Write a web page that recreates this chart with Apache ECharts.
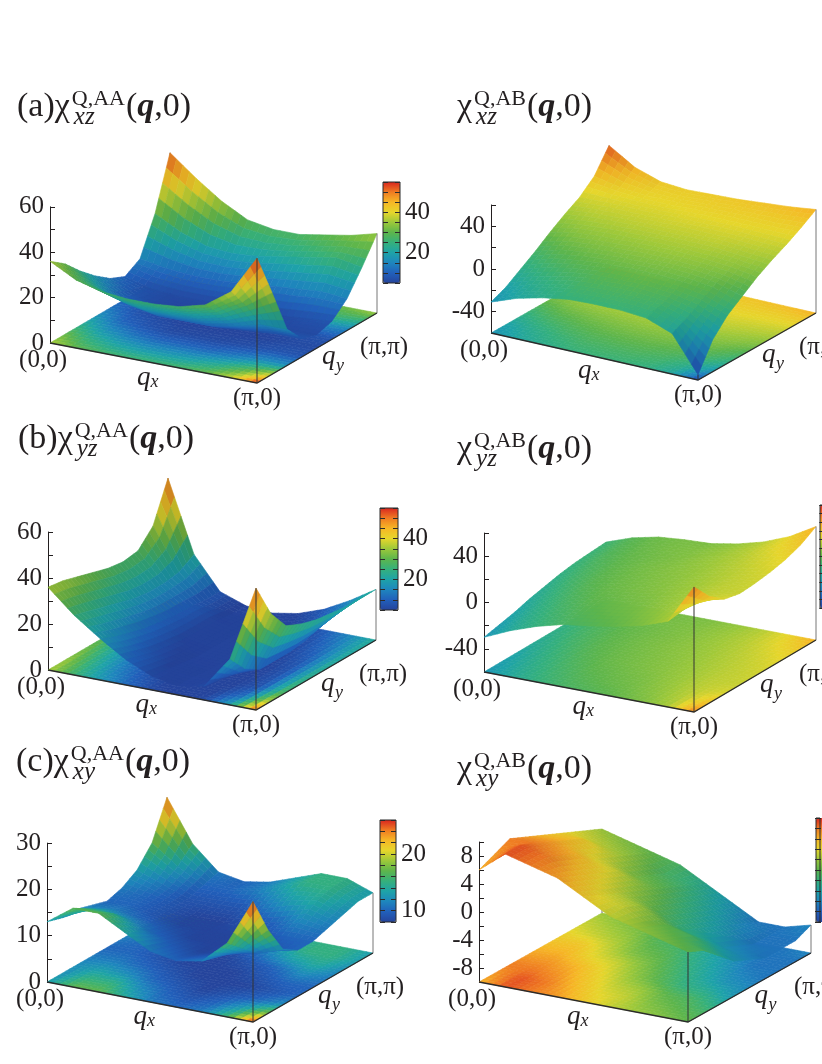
<!DOCTYPE html>
<html>
<head>
<meta charset="utf-8">
<script src="https://cdn.jsdelivr.net/npm/echarts@6/dist/echarts.min.js"></script>
<style>
  html, body { margin: 0; background: #fff; }
  #chart { width: 822px; height: 1064px; }
</style>
</head>
<body>
<div id="chart"></div>
<script>
// q grid along each in-plane axis, in units of pi
const qFrac = [0, 0.125, 0.25, 0.375, 0.5, 0.625, 0.75, 0.875, 1];

// chi^Q(q,0): rows = qy (0 -> pi), columns = qx (0 -> pi)
const aaXZ = [
  [36, 30, 27, 26, 26, 27, 30, 38, 55],
  [31, 24, 20, 18, 18, 19, 22, 28, 36],
  [24, 17, 13, 11, 11, 11, 13, 16, 16],
  [18, 11, 8, 6, 6, 6, 7, 8, 8],
  [13, 8, 6, 5, 5, 5, 5, 6, 6],
  [10, 7, 6, 6, 6, 6, 6, 7, 8],
  [14, 12, 11, 11, 12, 13, 14, 15, 14],
  [30, 24, 20, 19, 20, 22, 24, 26, 24],
  [53, 44, 36, 30, 28, 28, 30, 32, 35]
];
const abXZ = [
  [-31, -22, -16, -12, -11, -11, -13, -22, -55],
  [-25, -17, -11, -7, -6, -6, -8, -15, -30],
  [-16, -9, -4, -1, 0, 0, -2, -6, -15],
  [-7, 0, 3, 5, 6, 6, 5, 2, -5],
  [3, 8, 10, 11, 12, 12, 11, 9, 5],
  [12, 15, 16, 17, 17, 17, 17, 15, 13],
  [20, 21, 21, 21, 22, 22, 22, 21, 20],
  [32, 27, 25, 25, 26, 27, 27, 27, 28],
  [53, 38, 30, 28, 29, 30, 32, 34, 37]
];
const aaYZ = [
  [36, 26, 18, 11, 6, 4, 6, 20, 53],
  [35, 24, 15, 9, 5, 4, 5, 12, 38],
  [33, 22, 13, 7, 4, 3, 4, 8, 29],
  [31, 20, 11, 6, 3, 3, 4, 8, 26],
  [29, 18, 10, 5, 3, 3, 4, 8, 24],
  [28, 17, 9, 5, 3, 3, 5, 9, 23],
  [29, 17, 9, 5, 3, 4, 6, 11, 22],
  [36, 18, 8, 4, 3, 4, 7, 13, 22],
  [53, 22, 8, 4, 3, 5, 9, 15, 22]
];
const abYZ = [
  [-30, -20, -12, -6, -3, 1, 6, 14, 48],
  [-27, -17, -9, -3, 1, 4, 9, 16, 32],
  [-24, -14, -6, 0, 3, 6, 11, 17, 22],
  [-20, -11, -3, 2, 5, 8, 12, 17, 19],
  [-17, -8, -1, 3, 6, 9, 13, 17, 20],
  [-14, -6, 0, 4, 7, 10, 14, 18, 22],
  [-12, -4, 1, 4, 7, 11, 15, 20, 25],
  [-11, -3, 2, 5, 7, 11, 16, 23, 30],
  [-10, -2, 3, 5, 6, 10, 16, 25, 38]
];
const aaXY = [
  [13, 17, 17, 14, 11, 10, 11, 16, 26],
  [12, 15, 15, 12, 10, 9, 10, 13, 18],
  [12, 13, 12, 10, 9, 8, 9, 10, 12],
  [11, 11, 10, 9, 8, 8, 8, 9, 10],
  [10, 10, 9, 8, 8, 8, 9, 10, 10],
  [11, 10, 9, 8, 8, 9, 10, 12, 11],
  [13, 11, 9, 9, 9, 11, 13, 14, 12],
  [17, 13, 10, 10, 11, 13, 15, 15, 13],
  [25, 16, 11, 10, 11, 13, 15, 15, 13]
];
const abXY = [
  [6, 9, 8, 7, 5, 3, 2, 1, 0],
  [7, 9, 8, 6, 4, 3, 1, 0, -1],
  [8, 8, 7, 5, 3, 2, 0, -1, -3],
  [7, 7, 6, 4, 2, 0, -2, -3, -5],
  [6, 6, 4, 3, 1, -1, -3, -5, -6],
  [5, 5, 3, 1, 0, -2, -4, -6, -7],
  [4, 3, 2, 0, -1, -3, -5, -7, -7],
  [3, 2, 1, -1, -2, -4, -6, -7, -7],
  [2, 1, 0, -1, -3, -5, -7, -7, -6]
];

// tick labels
const zLabelsAA = [0, 20, 40, 60];
const zLabelsAB = [-40, 0, 40];
const zLabelsXY = [0, 10, 20, 30];
const zLabelsXYAB = [-8, -4, 0, 4, 8];
const cbLabelsAA = [20, 40];
const cbLabelsAB = [-40, 0, 40];
const cbLabelsXY = [10, 20];
const cbLabelsXYAB = [-8, 0, 8];
const cornerLabels = ['(0,0)', '(π,0)', '(π,π)'];
const titleTags = ['(a)', '', '(b)', '', '(c)', ''];
const titleSups = ['Q,AA', 'Q,AB', 'Q,AA', 'Q,AB', 'Q,AA', 'Q,AB'];
const titleSubs = ['xz', 'xz', 'yz', 'yz', 'xy', 'xy'];

const ink = '#231f20';
const serif = '"Liberation Serif", "DejaVu Serif", serif';
const palette = ['#25449c', '#2160bb', '#1e86bd', '#1ea3a8', '#35b07c', '#5db54c', '#9cc83a', '#e6d62c', '#f6b726', '#ef7b22', '#d9261f'];

// layout of each panel: floor corner (0,0), pixel vectors of the qx / qy edges, px per z unit
const panels = [
  { vals: aaXZ, origin: [50, 343], qx: [207, 40], qy: [120, -70], ppu: 2.27, zMin: 0, zMax: 60, zStep: 10, zLabels: zLabelsAA,
    cMin: 5, cMax: 55, cStep: 5, cLabels: cbLabelsAA, bar: [383, 182, 17, 101], title: [17, 90] },
  { vals: abXZ, origin: [491, 333], qx: [207, 47], qy: [118, -67], ppu: 1.067, zMin: -60, zMax: 60, zStep: 20, zLabels: zLabelsAB,
    cMin: -60, cMax: 60, cStep: 10, cLabels: cbLabelsAB, bar: [828, 178, 17, 103], title: [457, 90] },
  { vals: aaYZ, origin: [48, 670], qx: [208, 40], qy: [120, -70], ppu: 2.3, zMin: 0, zMax: 60, zStep: 10, zLabels: zLabelsAA,
    cMin: 5, cMax: 55, cStep: 5, cLabels: cbLabelsAA, bar: [380, 508, 18, 102], title: [18, 422] },
  { vals: abYZ, origin: [484, 672], qx: [210, 40], qy: [122, -72], ppu: 1.158, zMin: -60, zMax: 60, zStep: 20, zLabels: zLabelsAB,
    cMin: -60, cMax: 60, cStep: 10, cLabels: cbLabelsAB, bar: [820, 505, 17, 103], title: [457, 432] },
  { vals: aaXY, origin: [47, 982], qx: [206, 40], qy: [120, -69], ppu: 4.63, zMin: 0, zMax: 30, zStep: 5, zLabels: zLabelsXY,
    cMin: 8, cMax: 26, cStep: 2, cLabels: cbLabelsXY, bar: [380, 820, 16, 102], title: [16, 745] },
  { vals: abXY, origin: [479, 982], qx: [209, 40], qy: [123, -69], ppu: 7, zMin: -10, zMax: 10, zStep: 2, zLabels: zLabelsXYAB,
    cMin: -10, cMax: 10, cStep: 2, cLabels: cbLabelsXYAB, bar: [816, 818, 16, 104], title: [457, 752] }
];

const SUB = 4;
const light = [-0.4, -0.3, 0.87];

const measureText = (() => {
  const ctx = document.createElement('canvas').getContext('2d');
  return (text, font) => { ctx.font = font; return ctx.measureText(text).width; };
})();

// oblique view: qx, qy go through the hidden x axis and the z axis of the panel grid
function project(api, P, u, v, z) {
  return api.coord([u + v * P.qy[0] / P.qx[0], z - (u * P.qx[1] + v * P.qy[1]) / P.ppu]);
}
function bilerp(z, s, t) {
  return z[0] * (1 - s) * (1 - t) + z[1] * s * (1 - t) + z[2] * s * t + z[3] * (1 - s) * t;
}
function colorOf(v, P) {
  const t = Math.min(1, Math.max(0, (v - P.cMin) / (P.cMax - P.cMin)));
  return echarts.color.lerp(t, palette);
}
function darken(c, f) {
  const a = echarts.color.parse(c);
  return 'rgb(' + Math.round(a[0] * f) + ',' + Math.round(a[1] * f) + ',' + Math.round(a[2] * f) + ')';
}
function depthKey(P, u, v) {
  return P.qx[1] * u + P.qy[1] * v;
}

function patchItem(params, api, P, onFloor) {
  const u0 = api.value(0), v0 = api.value(1), u1 = api.value(2), v1 = api.value(3);
  const z = [api.value(4), api.value(5), api.value(6), api.value(7)];
  const side = 200 * (u1 - u0) / SUB;
  const cells = [];
  for (let b = 0; b < SUB; b++) for (let a = 0; a < SUB; a++) cells.push([a, b]);
  cells.sort((p, q) => depthKey(P, p[0], p[1]) - depthKey(P, q[0], q[1]));
  const children = cells.map(([a, b], k) => {
    const zc = [[a, b], [a + 1, b], [a + 1, b + 1], [a, b + 1]].map(([s, t]) => bilerp(z, s / SUB, t / SUB));
    const pts = [[a, b], [a + 1, b], [a + 1, b + 1], [a, b + 1]].map(([s, t], n) =>
      project(api, P, u0 + (u1 - u0) * s / SUB, v0 + (v1 - v0) * t / SUB, onFloor ? P.zMin : zc[n]));
    let c = colorOf(bilerp(z, (a + 0.5) / SUB, (b + 0.5) / SUB), P);
    if (!onFloor) {
      const gu = P.ppu * ((zc[1] + zc[2]) - (zc[0] + zc[3])) / 2 / side;
      const gv = P.ppu * ((zc[2] + zc[3]) - (zc[0] + zc[1])) / 2 / side;
      const len = Math.sqrt(gu * gu + gv * gv + 1);
      const lam = (-gu * light[0] - gv * light[1] + light[2]) / len;
      c = darken(c, 1 - 0.18 * Math.max(0, 0.9 - lam));
    }
    return { type: 'polygon', z2: params.dataIndex * 20 + k, shape: { points: pts }, style: { fill: c, stroke: c, lineWidth: 0.6 } };
  });
  return { type: 'group', children };
}

function txt(x, y, text, size, fstyle, align) {
  return { type: 'text', x, y, style: { text, fill: ink, font: fstyle + ' ' + size + 'px ' + serif, align, verticalAlign: 'top' } };
}

function backItem(params, api, P) {
  const a = project(api, P, 0, 1, P.zMin), b = project(api, P, 0, 1, api.value(2));
  return { type: 'line', shape: { x1: a[0], y1: a[1], x2: b[0], y2: b[1] }, style: { stroke: '#777', lineWidth: 1 } };
}

function frameItem(params, api, P) {
  const c00 = project(api, P, 0, 0, P.zMin), c10 = project(api, P, 1, 0, P.zMin), c11 = project(api, P, 1, 1, P.zMin);
  const t10 = project(api, P, 1, 0, api.value(0)), t11 = project(api, P, 1, 1, api.value(1));
  const mx = [(c00[0] + c10[0]) / 2, (c00[1] + c10[1]) / 2];
  const my = [(c10[0] + c11[0]) / 2, (c10[1] + c11[1]) / 2];
  return { type: 'group', children: [
    { type: 'polyline', shape: { points: [c00, c10, c11] }, style: { stroke: '#2b2b2b', lineWidth: 1.3, fill: 'none' } },
    { type: 'line', shape: { x1: c10[0], y1: c10[1], x2: t10[0], y2: t10[1] }, style: { stroke: '#333', lineWidth: 1 } },
    { type: 'line', shape: { x1: c11[0], y1: c11[1], x2: t11[0], y2: t11[1] }, style: { stroke: '#777', lineWidth: 1 } },
    txt(c00[0] - 7, c00[1] + 5, cornerLabels[0], 25, 'normal', 'center'),
    txt(c10[0], c10[1] + 3, cornerLabels[1], 25, 'normal', 'center'),
    txt(c11[0] + 7, c11[1] + 22, cornerLabels[2], 25, 'normal', 'center'),
    txt(mx[0] - 3, mx[1] + 1, 'q', 27, 'italic', 'right'),
    txt(mx[0] - 3, mx[1] + 10, 'x', 18, 'italic', 'left'),
    txt(my[0] + 5, my[1] - 5, 'q', 27, 'italic', 'left'),
    txt(my[0] + 19, my[1] + 9, 'y', 18, 'italic', 'left')
  ] };
}

const grid = [], xAxis = [], yAxis = [], series = [], visualMap = [], titles = [];

panels.forEach((P, k) => {
  const g = P.vals;
  const h = (P.zMax - P.zMin) * P.ppu;
  const gi = grid.length;
  grid.push({ left: P.origin[0], top: P.origin[1] - h, width: P.qx[0], height: h });
  xAxis.push({ gridIndex: gi, type: 'value', min: 0, max: 1, show: false });
  yAxis.push({
    gridIndex: gi, type: 'value', min: P.zMin, max: P.zMax, interval: P.zStep,
    axisLine: { show: true, lineStyle: { color: ink, width: 1 } },
    axisTick: { show: true, inside: true, length: 5, lineStyle: { color: ink } },
    axisLabel: { fontFamily: serif, fontSize: 25, color: ink, margin: 6,
      formatter: v => (P.zLabels.includes(v) ? String(v) : '') },
    splitLine: { show: false }
  });
  const xi = xAxis.length - 1, yi = yAxis.length - 1;

  const quads = [];
  for (let j = 0; j < qFrac.length - 1; j++) {
    for (let i = 0; i < qFrac.length - 1; i++) {
      quads.push([qFrac[i], qFrac[j], qFrac[i + 1], qFrac[j + 1], g[j][i], g[j][i + 1], g[j + 1][i + 1], g[j + 1][i]]);
    }
  }
  quads.sort((a, b) => depthKey(P, a[0] + a[2], a[1] + a[3]) - depthKey(P, b[0] + b[2], b[1] + b[3]));
  const corners = [[g[0][8], g[8][8], g[8][0]]];

  const common = { type: 'custom', xAxisIndex: xi, yAxisIndex: yi, silent: true, animation: false };
  series.push(Object.assign({}, common, { name: 'floor' + k, data: quads, z: 2, renderItem: (p, api) => patchItem(p, api, P, true) }));
  series.push(Object.assign({}, common, { name: 'back' + k, data: corners, z: 3, renderItem: (p, api) => backItem(p, api, P) }));
  const surfIndex = series.length;
  series.push(Object.assign({}, common, { name: 'surface' + k, data: quads, z: 4, renderItem: (p, api) => patchItem(p, api, P, false) }));
  series.push(Object.assign({}, common, { name: 'frame' + k, data: corners, z: 5, renderItem: (p, api) => frameItem(p, api, P) }));

  // colour bar
  const [bx, by, bw, bh] = P.bar;
  visualMap.push({
    type: 'continuous', seriesIndex: surfIndex, dimension: 4, min: P.cMin, max: P.cMax,
    left: bx, top: by, itemWidth: bw, itemHeight: bh, padding: 0, calculable: false,
    hoverLink: false, inRange: { color: palette }, z: 1
  });
  const cg = grid.length;
  grid.push({ left: bx, top: by, width: bw, height: bh, show: true, borderColor: '#2b2b2b', borderWidth: 1,
    backgroundColor: 'transparent', z: 10 });
  xAxis.push({ gridIndex: cg, type: 'value', show: false });
  const cbAxis = (pos, labels) => ({
    gridIndex: cg, type: 'value', position: pos, min: P.cMin, max: P.cMax, interval: P.cStep, z: 10,
    axisLine: { show: false },
    axisTick: { show: true, inside: true, length: 5, lineStyle: { color: '#2b2b2b', width: 1 } },
    axisLabel: { show: labels, fontFamily: serif, fontSize: 25, color: ink, margin: 5,
      formatter: v => (P.cLabels.includes(v) ? String(v) : '') },
    splitLine: { show: false }
  });
  yAxis.push(cbAxis('left', false));
  yAxis.push(cbAxis('right', true));

  // panel title: tag + chi, stacked superscript / subscript, then (q,0)
  const [tx, ty] = P.title;
  const mainFont = '34px ' + serif, supFont = '22px ' + serif, subFont = 'italic 25px ' + serif;
  const head = titleTags[k] + 'χ';
  const sx = tx + measureText(head, mainFont) + 2;
  const qx = sx + Math.max(measureText(titleSups[k], supFont), measureText(titleSubs[k], subFont) + 2) + 1;
  titles.push(
    { type: 'text', x: tx, y: ty, style: { text: head, fill: ink, font: mainFont, verticalAlign: 'top' } },
    { type: 'text', x: sx, y: ty - 2, style: { text: titleSups[k], fill: ink, font: supFont, verticalAlign: 'top' } },
    { type: 'text', x: sx + 2, y: ty + 15, style: { text: titleSubs[k], fill: ink, font: subFont, verticalAlign: 'top' } },
    { type: 'text', x: qx, y: ty, style: { text: '{n|(}{q|q}{n|,0)}', fill: ink, verticalAlign: 'top',
      rich: { n: { font: mainFont, fill: ink }, q: { font: 'italic bold 34px ' + serif, fill: ink } } } }
  );
});

const chart = echarts.init(document.getElementById('chart'), null, { renderer: 'canvas' });
chart.setOption({
  backgroundColor: '#ffffff',
  animation: false,
  grid, xAxis, yAxis, series, visualMap,
  graphic: { elements: titles }
});
</script>
</body>
</html>
